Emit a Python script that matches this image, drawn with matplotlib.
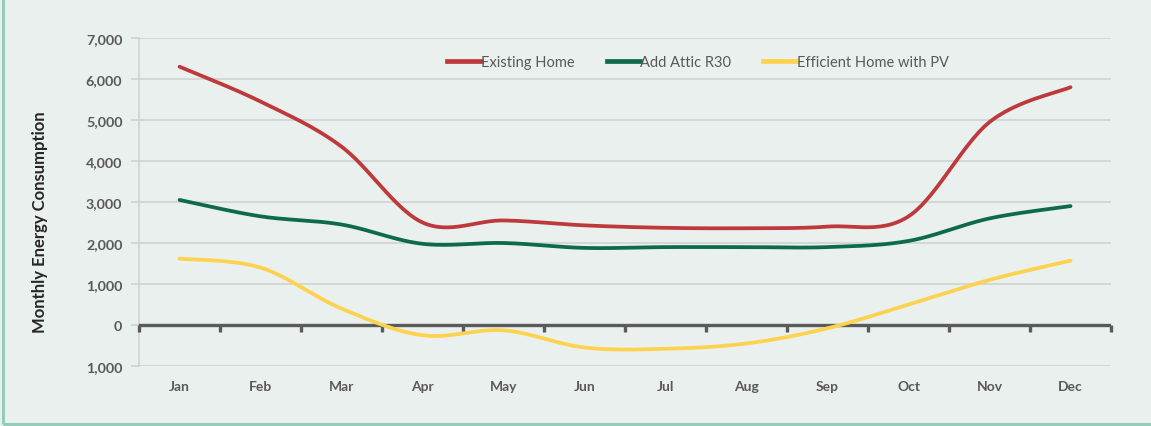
import numpy as np
import matplotlib
matplotlib.use("Agg")
import matplotlib.pyplot as plt  # noqa
from matplotlib.lines import Line2D  # noqa
from matplotlib.ticker import FuncFormatter  # noqa
from matplotlib.patches import Rectangle  # noqa

months = ["Jan", "Feb", "Mar", "Apr", "May", "Jun",
          "Jul", "Aug", "Sep", "Oct", "Nov", "Dec"]
existing_home = [6300, 5450, 4350, 2500, 2550, 2430,
                 2370, 2360, 2400, 2650, 4950, 5800]
attic_r30 = [3050, 2650, 2450, 1980, 2000, 1880,
             1900, 1900, 1900, 2050, 2600, 2900]
efficient_pv = [1620, 1400, 400, -250, -130, -550,
                -580, -450, -80, 500, 1100, 1570]

series_names = ["Existing Home", "Add Attic R30", "Efficient Home with PV"]
series_colors = ["#be393b", "#0d6a4b", "#fdd24f"]

BG = "#eaf0ee"
TXT = "#595959"


def smooth(x, y, steps=30):
    """Bezier smoothing through every point (spreadsheet-style smoothed line)"""
    x = np.asarray(x, float)
    y = np.asarray(y, float)
    px = np.concatenate([[x[0]], x, [x[-1]]])
    py = np.concatenate([[y[0]], y, [y[-1]]])
    t = np.linspace(0, 1, steps)[:, None]
    out_x, out_y = [], []
    for i in range(len(x) - 1):
        p0 = np.array([px[i + 1], py[i + 1]])
        p3 = np.array([px[i + 2], py[i + 2]])
        p1 = p0 + (p3 - np.array([px[i], py[i]])) / 6
        p2 = p3 - (np.array([px[i + 3], py[i + 3]]) - p0) / 6
        seg = ((1 - t) ** 3 * p0 + 3 * (1 - t) ** 2 * t * p1
               + 3 * (1 - t) * t ** 2 * p2 + t ** 3 * p3)
        out_x.append(seg[:, 0])
        out_y.append(seg[:, 1])
    return np.concatenate(out_x), np.concatenate(out_y)


plt.rcParams["font.family"] = ["Lato", "DejaVu Sans"]

fig = plt.figure(figsize=(11.51, 4.27), dpi=100, facecolor=BG)
# Frame around the chart area (left and bottom edges show)
fig.patches.append(Rectangle((0.003, 0.004), 1.2, 1.2, transform=fig.transFigure,
                             fill=False, edgecolor="#93cdbb", linewidth=2.2))
ax = fig.add_axes([0.1208, 0.1405, 0.8445, 0.7682])
ax.set_facecolor(BG)

xs = np.arange(len(months))
for vals, name, color in zip([existing_home, attic_r30, efficient_pv],
                             series_names, series_colors):
    sx, sy = smooth(xs, vals)
    ax.plot(sx, sy, color=color, linewidth=2.7, solid_capstyle="round",
            label=name, zorder=4)

ax.set_xlim(-0.5, len(months) - 0.5)
ax.set_ylim(-1000, 7000)
ax.set_yticks(np.arange(-1000, 7001, 1000))
ax.yaxis.set_major_formatter(FuncFormatter(lambda v, p: f"{abs(v):,.0f}"))
ax.grid(axis="y", color="#cdd0cf", linewidth=1.1)
ax.set_axisbelow(True)

for side in ["top", "right", "bottom"]:
    ax.spines[side].set_visible(False)
ax.spines["left"].set_color("#cdd0cf")
ax.spines["left"].set_linewidth(1.1)

ax.tick_params(axis="y", length=6, color="#cdd0cf", width=1.1,
               labelsize=10.3, labelcolor=TXT, pad=6)
ax.set_xticks(xs)
ax.set_xticklabels(months)
ax.tick_params(axis="x", length=0, labelsize=10, labelcolor=TXT, pad=10)
for lbl in ax.get_xticklabels() + ax.get_yticklabels():
    lbl.set_fontweight("bold")

# Zero line with category boundary ticks
bounds = np.arange(-0.5, len(months), 1.0)
ax.axhline(0, color="#5a5a5a", linewidth=2.4, zorder=3)
ax.plot(bounds, np.zeros_like(bounds), linestyle="none", marker=3,
        markersize=5, markeredgewidth=2.4, color="#5a5a5a", zorder=3,
        clip_on=False)

ax.set_ylabel("Monthly Energy Consumption", fontsize=12, fontweight="bold",
              color="#262626")
ax.yaxis.set_label_coords(-0.094, 0.442)

handles = [Line2D([0], [0], color=c, linewidth=3.4) for c in series_colors]
ax.legend(handles, series_names, loc="center", bbox_to_anchor=(0.575, 0.927),
          ncol=3, frameon=False, fontsize=10.5, labelcolor=TXT,
          handlelength=2.3, handletextpad=0.0, columnspacing=2.2)

plt.savefig("out.png", dpi=100, facecolor=BG)
